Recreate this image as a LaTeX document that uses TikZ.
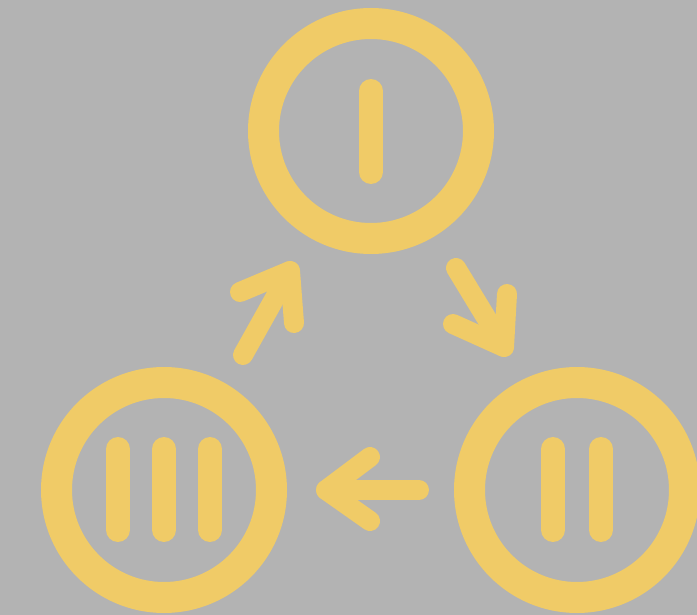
\documentclass[tikz,border=0pt]{standalone}
\usepackage{tikz}
\usetikzlibrary{positioning,calc}
\definecolor{CycleGray}{HTML}{B3B3B3}
\definecolor{CycleYellow}{HTML}{F0CB67}

\begin{document}
\begin{tikzpicture}[
  x=1pt,y=-1pt,
  ring/.style={circle,draw=CycleYellow,line width=31pt,minimum size=215pt,inner sep=0pt},
  bar/.style={draw=CycleYellow,line width=24pt,line cap=round},
  arr/.style={draw=CycleYellow,line width=20pt,line cap=round,line join=round}
]
  \fill[CycleGray] (0,0) rectangle (697,615);
  \useasboundingbox (0,0) rectangle (697,615);

  % the three stages
  \node[ring] (one) at (371,131) {};
  \node[ring] (two) at (577,490) {};
  \node[ring] (three) at (164,490) {};

  % numerals
  \draw[bar] ($(one)+(0,-40)$) -- ($(one)+(0,41)$);
  \draw[bar] ($(two)+(-24,-41)$) -- ($(two)+(-24,40)$);
  \draw[bar] ($(two)+(24,-41)$) -- ($(two)+(24,40)$);
  \foreach \dx in {-46,0,46}
    \draw[bar] ($(three)+(\dx,-41)$) -- ($(three)+(\dx,40)$);

  % arrows between stages
  \coordinate (tipA) at (290,271);
  \coordinate (tailA) at (243,355);
  \coordinate (tipB) at (504,347);
  \coordinate (tailB) at (456,268);
  \coordinate (tipC) at (326,490);
  \coordinate (tailC) at (419,490);

  \draw[arr] (tailA) -- (tipA);
  \draw[arr] (240,292) -- (tipA) -- (294,323);
  \draw[arr] (tailB) -- (tipB);
  \draw[arr] (453,324) -- (tipB) -- (507,294);
  \draw[arr] (tailC) -- (tipC);
  \draw[arr] (370,457) -- (tipC) -- (370,521);
\end{tikzpicture}
\end{document}
